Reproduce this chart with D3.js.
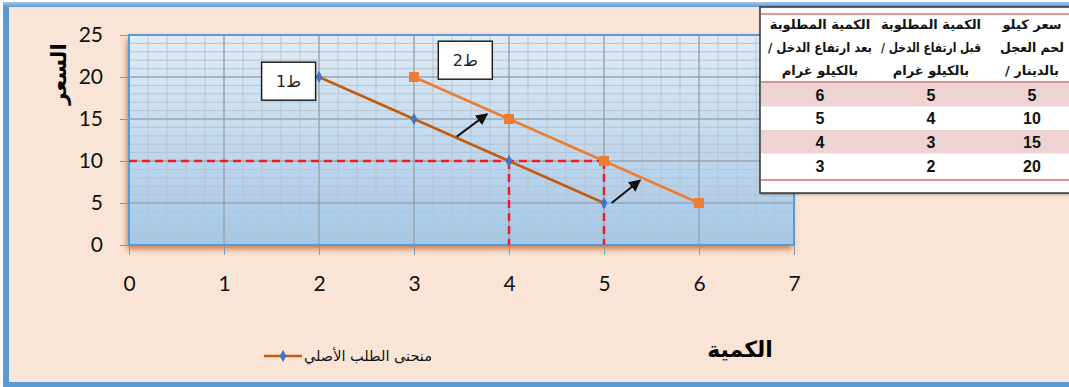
<!DOCTYPE html>
<html><head><meta charset="utf-8">
<script src="https://cdn.jsdelivr.net/npm/d3@7/dist/d3.min.js"></script>
<style>html,body{margin:0;padding:0;background:#fff;}svg{display:block;} .rtl{direction:rtl;unicode-bidi:embed;}</style>
</head><body>
<svg id="c" width="1069" height="387"></svg>
<script>
// ---- data ----
const xTicks = [0,1,2,3,4,5,6,7];
const yTicks = [0,5,10,15,20,25];
const prices = [20,15,10,5];
const qtyOriginal = [2,3,4,5];
const qtyNew = [3,4,5,6];
const tablePrices = [5,10,15,20];
const tableBefore = [5,4,3,2];
const tableAfter = [6,5,4,3];
const headPrice = ["سعر كيلو","لحم العجل","بالدينار /"];
const headBefore = ["الكمية المطلوبة","قبل ارتفاع الدخل /","بالكيلو غرام"];
const headAfter = ["الكمية المطلوبة","بعد ارتفاع الدخل /","بالكيلو غرام"];
const labelNames = ["ط1","ط2"];
const labelPos = [[1.68,19.5],[3.54,22.0]];
const arrows = [[[3.45,12.9],[3.77,15.6]],[[5.08,5.0],[5.38,7.7]]];
const refPrice = 10, refQ1 = 4, refQ2 = 5;
const xTitle = "الكمية", yTitle = "السعر", legendName = "منحنى الطلب الأصلي";

const svg = d3.select("#c");
const defs = svg.append("defs");
const lg = defs.append("linearGradient").attr("id","bg").attr("x1",0).attr("y1",0).attr("x2",0).attr("y2",1);
lg.append("stop").attr("offset","0%").attr("stop-color","#e0ecf7");
lg.append("stop").attr("offset","100%").attr("stop-color","#a3c7e8");
const tg = defs.append("linearGradient").attr("id","topb").attr("x1",0).attr("y1",0).attr("x2",0).attr("y2",1);
tg.append("stop").attr("offset","0%").attr("stop-color","#a9c4e6");
tg.append("stop").attr("offset","100%").attr("stop-color","#5b9bd5");
const f = defs.append("filter").attr("id","sh").attr("x","-10%").attr("y","-10%").attr("width","120%").attr("height","130%");
f.append("feDropShadow").attr("dx",-2).attr("dy",4).attr("stdDeviation",3).attr("flood-color","#c0622a").attr("flood-opacity",0.85);
const f2 = defs.append("filter").attr("id","sh2").attr("x","-10%").attr("y","-10%").attr("width","120%").attr("height","130%");
f2.append("feDropShadow").attr("dx",1).attr("dy",1).attr("stdDeviation",1).attr("flood-color","#000").attr("flood-opacity",0.3);
defs.append("marker").attr("id","ah").attr("viewBox","0 0 10 10").attr("refX",9).attr("refY",5)
  .attr("markerWidth",6).attr("markerHeight",6).attr("orient","auto")
  .append("path").attr("d","M0,0 L10,5 L0,10 Z").attr("fill","#111");

// frame
svg.append("rect").attr("x",3).attr("y",2).attr("width",1080).attr("height",390).attr("fill","#5b9bd5");
svg.append("rect").attr("x",3).attr("y",2).attr("width",1080).attr("height",5).attr("fill","url(#topb)");
svg.append("rect").attr("x",9).attr("y",7).attr("width",1070).attr("height",375).attr("fill","#fae4d6");

const x = d3.scaleLinear().domain([0,7]).range([129,794]);
const y = d3.scaleLinear().domain([0,25]).range([245,35]);

// plot area
svg.append("rect").attr("x",x(0)).attr("y",y(25)).attr("width",x(7)-x(0)).attr("height",y(0)-y(25))
  .attr("fill","url(#bg)").attr("filter","url(#sh)");

const g = svg.append("g");
g.selectAll(".vm").data(d3.range(0,35).map(i=>i*0.2)).join("line")
  .attr("x1",d=>x(d)).attr("x2",d=>x(d)).attr("y1",y(0)).attr("y2",y(25))
  .attr("stroke","#b9c3cc").attr("stroke-width",1);
g.selectAll(".hm").data(d3.range(0,26)).join("line")
  .attr("x1",x(0)).attr("x2",x(7)).attr("y1",d=>y(d)).attr("y2",d=>y(d))
  .attr("stroke","#b9c3cc").attr("stroke-width",1);
g.selectAll(".vM").data(xTicks).join("line")
  .attr("x1",d=>x(d)).attr("x2",d=>x(d)).attr("y1",y(0)).attr("y2",y(25))
  .attr("stroke","#8c96a0").attr("stroke-width",1);
g.selectAll(".hM").data(yTicks).join("line")
  .attr("x1",x(0)).attr("x2",x(7)).attr("y1",d=>y(d)).attr("y2",d=>y(d))
  .attr("stroke","#8c96a0").attr("stroke-width",1);
svg.append("rect").attr("x",x(0)).attr("y",y(25)).attr("width",x(7)-x(0)).attr("height",y(0)-y(25))
  .attr("fill","none").attr("stroke","#5b9bd5").attr("stroke-width",2);

// axes
const ya = svg.append("g").attr("transform",`translate(${x(0)},0)`)
  .call(d3.axisLeft(y).tickValues(yTicks).tickSize(9).tickPadding(17).tickFormat(d3.format("d")));
const xa = svg.append("g").attr("transform",`translate(0,${y(0)})`)
  .call(d3.axisBottom(x).tickValues(xTicks).tickSize(10).tickPadding(21).tickFormat(d3.format("d")));
[ya,xa].forEach(a=>{
  a.select(".domain").remove();
  a.selectAll("line").attr("stroke","#8c96a0");
  a.selectAll("text").attr("font-family","Lato, 'Open Sans', sans-serif").attr("font-size",21).attr("fill","#111");
});

// red dashed references
const dash = {stroke:"#ee1c24","stroke-width":2.5,"stroke-dasharray":"8,5"};
function dl(x1,y1,x2,y2){const l=svg.append("line").attr("x1",x(x1)).attr("y1",y(y1)).attr("x2",x(x2)).attr("y2",y(y2));
  Object.entries(dash).forEach(([k,v])=>l.attr(k,v));}
dl(0,refPrice,refQ2,refPrice);
dl(refQ1,refPrice,refQ1,0);
dl(refQ2,refPrice,refQ2,0);

// lines
const line = d3.line().x(d=>x(d[0])).y(d=>y(d[1]));
const orig = qtyOriginal.map((q,i)=>[q,prices[i]]);
const nw = qtyNew.map((q,i)=>[q,prices[i]]);
svg.append("path").datum(nw).attr("d",line).attr("fill","none").attr("stroke","#ed7d31").attr("stroke-width",2.5);
svg.append("path").datum(orig).attr("d",line).attr("fill","none").attr("stroke","#c55a11").attr("stroke-width",2.5);
svg.selectAll(".sq").data(nw).join("rect")
  .attr("x",d=>x(d[0])-5).attr("y",d=>y(d[1])-5).attr("width",10).attr("height",10).attr("fill","#ed7d31");
const diamond = d3.symbol().type(d3.symbolDiamond).size(40);
svg.selectAll(".dm").data(orig).join("path").attr("d",diamond)
  .attr("transform",d=>`translate(${x(d[0])},${y(d[1])})`).attr("fill","#4472c4");

// arrows
svg.selectAll(".ar").data(arrows).join("line")
  .attr("x1",d=>x(d[0][0])).attr("y1",d=>y(d[0][1])).attr("x2",d=>x(d[1][0])).attr("y2",d=>y(d[1][1]))
  .attr("stroke","#111").attr("stroke-width",2).attr("marker-end","url(#ah)");

// label boxes
labelNames.forEach((t,i)=>{
  const cx=x(labelPos[i][0]), cy=y(labelPos[i][1]);
  svg.append("rect").attr("x",cx-27).attr("y",cy-19).attr("width",54).attr("height",38)
    .attr("fill","#fff").attr("stroke","#222").attr("stroke-width",1.5);
  svg.append("text").attr("class","rtl").attr("x",cx).attr("y",cy+6).attr("text-anchor","middle")
    .attr("font-family","'DejaVu Sans', sans-serif").attr("font-size",16).attr("fill","#222").text(t);
});

// axis titles
svg.append("text").attr("class","rtl").attr("transform","translate(66,74) rotate(-90)").attr("text-anchor","middle")
  .attr("font-family","'DejaVu Sans', sans-serif").attr("font-weight","bold")
  .attr("font-size",21).attr("fill","#000").text(yTitle);
svg.append("text").attr("class","rtl").attr("x",740).attr("y",357).attr("text-anchor","middle")
  .attr("font-family","'DejaVu Sans', sans-serif").attr("font-weight","bold")
  .attr("font-size",22).attr("fill","#000").text(xTitle);

// legend
svg.append("line").attr("x1",264).attr("x2",302).attr("y1",356).attr("y2",356).attr("stroke","#c55a11").attr("stroke-width",2.5);
svg.append("path").attr("d",diamond).attr("transform","translate(283,356)").attr("fill","#4472c4");
svg.append("text").attr("class","rtl").attr("x",432).attr("y",361).attr("text-anchor","start")
  .attr("font-family","'DejaVu Sans', sans-serif").attr("font-size",14.5).attr("fill","#111").text(legendName);

// table
const T = svg.append("g");
T.append("rect").attr("x",760).attr("y",7).attr("width",320).attr("height",186)
  .attr("fill","#fff").attr("stroke","#333").attr("stroke-width",1.5).attr("filter","url(#sh2)");
const rowY = [83,106.5,130,154];
const rowH = 23.5;
tablePrices.forEach((p,i)=>{
  if(i%2===0) T.append("rect").attr("x",761).attr("y",rowY[i]).attr("width",310).attr("height",rowH).attr("fill","#efd3d2");
});
[14,82,180].forEach(yy=>T.append("line").attr("x1",761).attr("x2",1069).attr("y1",yy).attr("y2",yy)
  .attr("stroke","#d9706e").attr("stroke-width",1.5));
const colX = [1032,931,820];
const colMax = [64,100,104];
[headPrice,headBefore,headAfter].forEach((h,c)=>{
  h.forEach((s,k)=>{
    const t = T.append("text").attr("class","rtl").attr("x",colX[c]).attr("y",29+k*23).attr("text-anchor","middle")
      .attr("font-family","'DejaVu Sans', sans-serif").attr("font-weight","bold").attr("font-size",13)
      .attr("fill","#111").text(s);
    const w = t.node().getComputedTextLength();
    if (w > colMax[c]) t.attr("textLength",colMax[c]).attr("lengthAdjust","spacingAndGlyphs");
  });
});
[tablePrices,tableBefore,tableAfter].forEach((col,c)=>{
  col.forEach((v,i)=>{
    T.append("text").attr("x",colX[c]).attr("y",rowY[i]+rowH/2+6).attr("text-anchor","middle")
      .attr("font-family","'Liberation Sans', Arial, sans-serif").attr("font-weight","bold").attr("font-size",16)
      .attr("fill","#111").text(v);
  });
});
</script>
</body></html>
